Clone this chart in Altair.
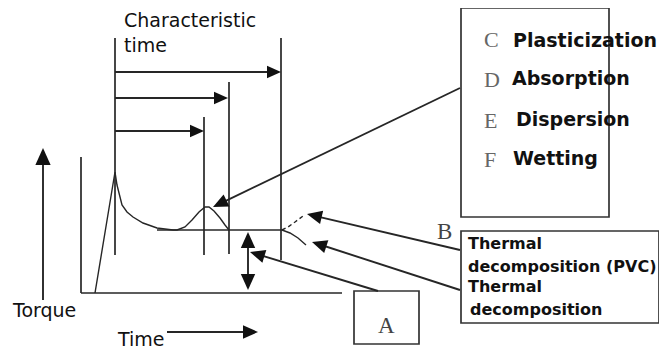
import math
import altair as alt
import pandas as pd

# ---------------- data (picture pixel coordinates) ----------------
# plain straight lines: verticals, axes, plateau
line_x1 = [115, 281, 204, 229, 81, 81, 157]
line_y1 = [38, 38, 117, 82, 157, 293, 230]
line_x2 = [115, 281, 204, 229, 81, 342, 282]
line_y2 = [255, 260, 255, 254, 293, 293, 230]

# arrows: tail (x1, y1) -> tip (x2, y2), head length in px
arrow_x1 = [115, 115, 115, 43, 167, 248, 248, 460, 460, 460, 378]
arrow_y1 = [72, 98, 131, 300, 332, 261, 261, 88, 250, 290, 291]
arrow_x2 = [281, 228, 204, 43, 258, 248, 248, 213, 307, 312, 250]
arrow_y2 = [72, 98, 131, 148, 332, 232, 290, 207, 214, 242, 252]
arrow_head = [14, 14, 14, 17, 15, 16, 16, 15, 15, 15, 15]

# torque curve
curve_x = [95, 115, 117, 122, 127, 133, 143, 157, 173, 177, 185, 192, 199, 205, 209, 214, 220, 225, 229]
curve_y = [293, 172, 185, 205, 212, 217, 223, 228, 230, 230, 227, 220, 212, 207, 207, 211, 218, 225, 230]
# thermal decomposition branches
rise_x = [282, 288, 295, 303]
rise_y = [230, 227, 222, 216]
fall_x = [282, 290, 298, 306]
fall_y = [230, 233, 238, 245]

# boxes
box_x1 = [461, 461, 354]
box_y1 = [8, 231, 291]
box_x2 = [609, 659, 419]
box_y2 = [217, 323, 344]

# texts
sans_text = ["Characteristic", "time", "Torque", "Time"]
sans_x = [124, 124, 13, 118]
sans_y = [27, 52, 317, 346]

bold_text = ["Plasticization", "Absorption", "Dispersion", "Wetting"]
bold_x = [513, 512, 516, 513]
bold_y = [47, 85, 126, 165]

letter_text = ["C", "D", "E", "F"]
letter_x = [484, 484, 484, 484]
letter_y = [47, 87, 128, 167]

thermal_text = ["Thermal", "decomposition (PVC)", "Thermal", "decomposition"]
thermal_x = [468, 468, 468, 470]
thermal_y = [249, 272, 292, 315]

big_letter_text = ["B", "A"]
big_letter_x = [437, 378]
big_letter_y = [239, 333]

# ---------------- build tables ----------------
W, H = 651, 342
xs = alt.Scale(domain=[8, 8 + W], nice=False, zero=False)
ys = alt.Scale(domain=[8, 8 + H], nice=False, zero=False, reverse=True)
INK = "#262626"

lines = pd.DataFrame({"x": line_x1, "y": line_y1, "x2": line_x2, "y2": line_y2})

arr = pd.DataFrame({"x1": arrow_x1, "y1": arrow_y1, "x2": arrow_x2, "y2": arrow_y2, "h": arrow_head})
dx = arr.x2 - arr.x1
dy = arr.y2 - arr.y1
ln = (dx ** 2 + dy ** 2) ** 0.5
arr["angle"] = [math.degrees(math.atan2(a, -b)) % 360 for a, b in zip(dx, dy)]
arr["size"] = arr.h ** 2
arr["sx2"] = arr.x2 - dx / ln * arr.h * 0.6
arr["sy2"] = arr.y2 - dy / ln * arr.h * 0.6

curves = pd.concat([
    pd.DataFrame({"x": curve_x, "y": curve_y, "g": "main"}),
    pd.DataFrame({"x": fall_x, "y": fall_y, "g": "fall"}),
]).reset_index(drop=True)
curves["i"] = range(len(curves))
rise = pd.DataFrame({"x": rise_x, "y": rise_y, "i": range(len(rise_x))})

boxes = pd.DataFrame({"x": box_x1, "y": box_y1, "x2": box_x2, "y2": box_y2})


def txt(texts, xs_, ys_):
    return pd.DataFrame({"t": texts, "x": xs_, "y": ys_})


X = lambda f="x": alt.X(f"{f}:Q", scale=xs, axis=None)
Y = lambda f="y": alt.Y(f"{f}:Q", scale=ys, axis=None)

rule_layer = alt.Chart(lines).mark_rule(color=INK, strokeWidth=1.7).encode(
    x=X(), y=Y(), x2="x2:Q", y2="y2:Q")

shaft_layer = alt.Chart(arr).mark_rule(color=INK, strokeWidth=1.9).encode(
    x=X("x1"), y=Y("y1"), x2="sx2:Q", y2="sy2:Q")

head_layer = alt.Chart(arr).mark_point(
    shape="M0,0L0.9,2L-0.9,2Z", filled=True, opacity=1, color="#111", strokeWidth=0
).encode(
    x=X("x2"), y=Y("y2"),
    size=alt.Size("size:Q", scale=None),
    angle=alt.Angle("angle:Q", scale=None),
)

curve_layer = alt.Chart(curves).mark_line(color=INK, strokeWidth=1.4).encode(
    x=X(), y=Y(), detail="g:N", order="i:Q")

rise_layer = alt.Chart(rise).mark_line(color=INK, strokeWidth=1.4, strokeDash=[4, 3]).encode(
    x=X(), y=Y(), order="i:Q")

box_layer = alt.Chart(boxes).mark_rect(
    fill="white", fillOpacity=0, stroke="#333", strokeWidth=1.7
).encode(x=X(), y=Y(), x2="x2:Q", y2="y2:Q")

sans_layer = alt.Chart(txt(sans_text, sans_x, sans_y)).mark_text(
    font="DejaVu Sans", fontSize=19, align="left", baseline="alphabetic", color="#111"
).encode(x=X(), y=Y(), text="t:N")

bold_layer = alt.Chart(txt(bold_text, bold_x, bold_y)).mark_text(
    font="DejaVu Sans", fontSize=19, fontWeight="bold", align="left", baseline="alphabetic", color="#111"
).encode(x=X(), y=Y(), text="t:N")

letter_layer = alt.Chart(txt(letter_text, letter_x, letter_y)).mark_text(
    font="Liberation Serif", fontSize=22, align="left", baseline="alphabetic", color="#666"
).encode(x=X(), y=Y(), text="t:N")

thermal_layer = alt.Chart(txt(thermal_text, thermal_x, thermal_y)).mark_text(
    font="DejaVu Sans", fontSize=16, fontWeight="bold", align="left", baseline="alphabetic", color="#111"
).encode(x=X(), y=Y(), text="t:N")

big_letter_layer = alt.Chart(txt(big_letter_text, big_letter_x, big_letter_y)).mark_text(
    font="Liberation Serif", fontSize=23, align="left", baseline="alphabetic", color="#444"
).encode(x=X(), y=Y(), text="t:N")

chart = alt.layer(
    box_layer, rule_layer, curve_layer, rise_layer, shaft_layer, head_layer,
    sans_layer, bold_layer, letter_layer, thermal_layer, big_letter_layer,
).properties(
    width=W, height=H, padding=0, autosize=alt.AutoSizeParams(type="none"), background="white"
).configure_view(stroke=None)

chart.save("out.html", embed_options={"renderer": "svg", "actions": False})
